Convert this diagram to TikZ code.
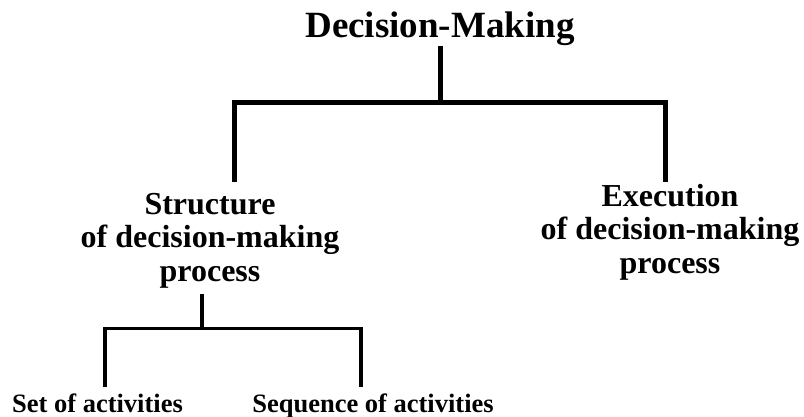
\documentclass[tikz,border=0pt]{standalone}
\usepackage{fontspec}
\setmainfont{Liberation Serif}
\begin{document}
\begin{tikzpicture}[x=1pt, y=-1pt,
  title/.style={font=\fontsize{37}{40}\selectfont\bfseries, inner sep=0pt, anchor=base},
  mid/.style={font=\fontsize{32}{33.5}\selectfont\bfseries, align=center, inner sep=0pt, anchor=base},
  leaf/.style={font=\fontsize{26.5}{28}\selectfont\bfseries, inner sep=0pt, anchor=base},
  bar/.style={line width=5pt, line join=miter},
  subbar/.style={line width=3.5pt, line join=miter}]
  \useasboundingbox (0,0) rectangle (804,417);

  % labels (a multi-line node sits on the baseline of its last line)
  \node[title] (dm) at (440,38) {Decision-Making};
  \node[mid] (str) at (210,281) {Structure\\of decision-making\\process};
  \node[mid] (exe) at (670,273) {Execution\\of decision-making\\process};
  \node[leaf] (set) at (97.5,412) {Set of activities};
  \node[leaf] (seq) at (373,412) {Sequence of activities};

  % junction points of the branches
  \coordinate (tj) at (440,102.5);
  \coordinate (tl) at (234.5,102.5);
  \coordinate (tr) at (665,102.5);
  \coordinate (sj) at (202,328.5);
  \coordinate (sl) at (105,328.5);
  \coordinate (sr) at (361,328.5);

  % upper tree
  \draw[bar] (dm.south) -- (tj);
  \draw[bar, shorten <=11pt, shorten >=1.5pt]
    (tl |- str.north) -- (tl) -- (tr) -- (tr |- exe.north);

  % lower tree
  \draw[subbar, shorten <=6pt] (sj |- str.south) -- (sj);
  \draw[subbar, shorten <=6pt, shorten >=6pt]
    (sl |- set.north) -- (sl) -- (sr) -- (sr |- seq.north);
\end{tikzpicture}
\end{document}
